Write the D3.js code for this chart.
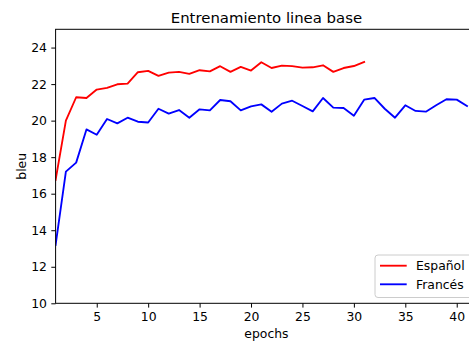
<!DOCTYPE html>
<html>
<head>
<meta charset="utf-8">
<script src="https://cdn.jsdelivr.net/npm/d3@7"></script>
<style>
	html, body { margin: 0; padding: 0; background: #fff; }
	svg { display: block; font-family: 'DejaVu Sans', sans-serif; }
</style>
</head>
<body>
<div id="chart"></div>
<script>
const title = 'Entrenamiento linea base';
const xLabel = 'epochs';
const yLabel = 'bleu';

const espanolEpochs = d3.range(1, 32);
const espanol = [
	16.75, 20.0, 21.28, 21.24, 21.7, 21.79, 21.99, 22.03, 22.65, 22.72,
	22.45, 22.63, 22.67, 22.56, 22.76, 22.7, 22.98, 22.67, 22.94, 22.74,
	23.2, 22.88, 23.01, 22.98, 22.9, 22.92, 23.03, 22.67, 22.88, 22.99,
	23.21
];

const francesEpochs = d3.range(1, 42);
const frances = [
	13.2, 17.21, 17.7, 19.52, 19.23, 20.09, 19.85, 20.16, 19.94, 19.9,
	20.65, 20.38, 20.58, 20.16, 20.62, 20.56, 21.13, 21.06, 20.56, 20.78,
	20.89, 20.49, 20.93, 21.09, 20.8, 20.51, 21.24, 20.71, 20.69, 20.27,
	21.15, 21.24, 20.65, 20.16, 20.84, 20.53, 20.49, 20.84, 21.17, 21.15,
	20.8
];

const xTicks = [5, 10, 15, 20, 25, 30, 35, 40];
const yTicks = [10, 12, 14, 16, 18, 20, 22, 24];

const series = [
	{ name: 'Español', x: espanolEpochs, y: espanol, color: '#ff0000' },
	{ name: 'Francés', x: francesEpochs, y: frances, color: '#0000ff' }
];

const width = 469;
const height = 341;
const m = { left: 55.6, right: 477.3, top: 29.3, bottom: 303.3 }; // axes box, right side is cut off
const fs = 12.4; // base font size

const svg = d3.select('#chart').append('svg')
	.attr('width', width)
	.attr('height', height);

const x = d3.scaleLinear().domain([1, 42]).range([m.left, m.right]);
const y = d3.scaleLinear().domain([10, 25]).range([m.bottom, m.top]);

svg.append('defs').append('clipPath').attr('id', 'plot-clip')
	.append('rect')
	.attr('x', m.left).attr('y', m.top)
	.attr('width', m.right - m.left).attr('height', m.bottom - m.top);

const line = d3.line()
	.x(d => x(d[0]))
	.y(d => y(d[1]));

const plot = svg.append('g').attr('clip-path', 'url(#plot-clip)');
series.forEach(s => {
	plot.append('path')
		.datum(s.x.map((e, i) => [e, s.y[i]]))
		.attr('d', line)
		.attr('fill', 'none')
		.attr('stroke', s.color)
		.attr('stroke-width', 1.85)
		.attr('stroke-linejoin', 'round')
		.attr('stroke-linecap', 'square');
});

// axes
const styleAxis = g => {
	g.select('.domain').remove();
	g.selectAll('line').attr('stroke', '#000').attr('stroke-width', 1);
	g.selectAll('text')
		.attr('fill', '#000')
		.style('font-family', "'DejaVu Sans', sans-serif")
		.style('font-size', fs + 'px');
};

svg.append('g')
	.attr('transform', `translate(0, ${m.bottom})`)
	.call(d3.axisBottom(x).tickValues(xTicks).tickSize(4.3).tickPadding(5).tickFormat(d3.format('d')))
	.call(styleAxis);

svg.append('g')
	.attr('transform', `translate(${m.left}, 0)`)
	.call(d3.axisLeft(y).tickValues(yTicks).tickSize(4.3).tickPadding(4.3).tickFormat(d3.format('d')))
	.call(styleAxis);

// spines
svg.append('rect')
	.attr('x', m.left).attr('y', m.top)
	.attr('width', m.right - m.left).attr('height', m.bottom - m.top)
	.attr('fill', 'none')
	.attr('stroke', '#000')
	.attr('stroke-width', 1);

// labels
svg.append('text')
	.attr('x', (m.left + m.right) / 2)
	.attr('y', 23.2)
	.attr('text-anchor', 'middle')
	.style('font-size', '14.9px')
	.text(title);

svg.append('text')
	.attr('x', (m.left + m.right) / 2)
	.attr('y', 337.5)
	.attr('text-anchor', 'middle')
	.style('font-size', fs + 'px')
	.text(xLabel);

svg.append('text')
	.attr('transform', `translate(25.5, ${(m.top + m.bottom) / 2}) rotate(-90)`)
	.attr('text-anchor', 'middle')
	.style('font-size', fs + 'px')
	.text(yLabel);

// legend, lower right
const legend = svg.append('g').attr('transform', 'translate(375, 255)');
legend.append('rect')
	.attr('width', 97.3)
	.attr('height', 42.5)
	.attr('rx', 3)
	.attr('fill', '#fff')
	.attr('fill-opacity', 0.8)
	.attr('stroke', '#ccc')
	.attr('stroke-width', 1);

series.forEach((s, i) => {
	const yy = 10.7 + i * 18.6;
	legend.append('line')
		.attr('x1', 5).attr('x2', 31.7)
		.attr('y1', yy).attr('y2', yy)
		.attr('stroke', s.color)
		.attr('stroke-width', 1.85);
	legend.append('text')
		.attr('x', 41)
		.attr('y', yy + 4.5)
		.style('font-size', fs + 'px')
		.text(s.name);
});
</script>
</body>
</html>
